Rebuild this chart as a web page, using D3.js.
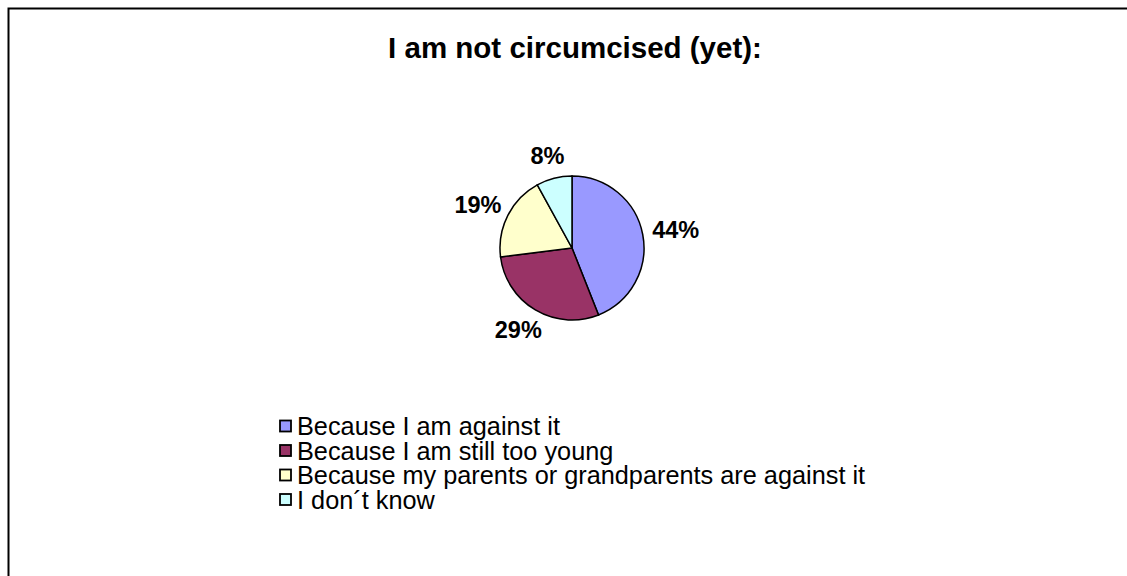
<!DOCTYPE html>
<html>
<head>
<meta charset="utf-8">
<script src="https://cdn.jsdelivr.net/npm/d3@7"></script>
<style>
  html, body { margin: 0; padding: 0; background: #fff; }
  svg { display: block; }
</style>
</head>
<body>
<svg id="chart" width="1127" height="576"></svg>
<script>
const title = "I am not circumcised (yet):";
const categories = [
  "Because I am against it",
  "Because I am still too young",
  "Because my parents or grandparents are against it",
  "I don\u00b4t know"
];
const values = [44, 29, 19, 8];
const colors = ["#9999FF", "#993366", "#FFFFCC", "#CCFFFF"];

const svg = d3.select("#chart");
const W = 1127, H = 576;

svg.append("rect")
  .attr("x", 8.5).attr("y", 8.5)
  .attr("width", W + 20).attr("height", H + 20)
  .attr("fill", "#fff").attr("stroke", "#000").attr("stroke-width", 2);

svg.append("text")
  .attr("x", 575).attr("y", 58)
  .attr("text-anchor", "middle")
  .attr("font-family", "Liberation Sans, Arial, sans-serif")
  .attr("font-weight", "bold")
  .attr("font-size", 29.5)
  .text(title);

const cx = 572, cy = 248, r = 72;
const pie = d3.pie().sort(null).value(d => d);
const arcs = pie(values);
const arc = d3.arc().innerRadius(0).outerRadius(r);

const g = svg.append("g").attr("transform", `translate(${cx},${cy})`);
g.selectAll("path").data(arcs).enter().append("path")
  .attr("d", arc)
  .attr("fill", (d, i) => colors[i])
  .attr("stroke", "#000").attr("stroke-width", 1.5);

const total = d3.sum(values);
const fmt = v => Math.round(v / total * 100) + "%";
const labelFont = 23.5;
g.selectAll("text.lbl").data(arcs).enter().append("text")
  .attr("class", "lbl")
  .attr("font-family", "Liberation Sans, Arial, sans-serif")
  .attr("font-weight", "bold")
  .attr("font-size", labelFont)
  .attr("text-anchor", "middle")
  .attr("dominant-baseline", "central")
  .text(d => fmt(d.value))
  .each(function(d) {
    const a = (d.startAngle + d.endAngle) / 2;
    const ux = Math.sin(a), uy = -Math.cos(a);
    const bb = this.getBBox();
    const gap = 10;
    const x = (r + gap) * ux + (bb.width / 2) * ux;
    const y = (r + gap) * uy + (bb.height / 2) * uy;
    d3.select(this).attr("x", x).attr("y", y);
  });

const legend = svg.append("g").attr("transform", "translate(280,426)");
const rowH = 24.5;
const items = legend.selectAll("g").data(categories).enter().append("g")
  .attr("transform", (d, i) => `translate(0,${i * rowH})`);
items.append("rect")
  .attr("x", 0).attr("y", -5.5).attr("width", 11).attr("height", 11)
  .attr("fill", (d, i) => colors[i])
  .attr("stroke", "#000").attr("stroke-width", 1.8);
items.append("text")
  .attr("x", 17).attr("y", 0)
  .attr("dominant-baseline", "central")
  .attr("font-family", "Liberation Sans, Arial, sans-serif")
  .attr("font-size", 25.3)
  .text(d => d);
</script>
</body>
</html>
